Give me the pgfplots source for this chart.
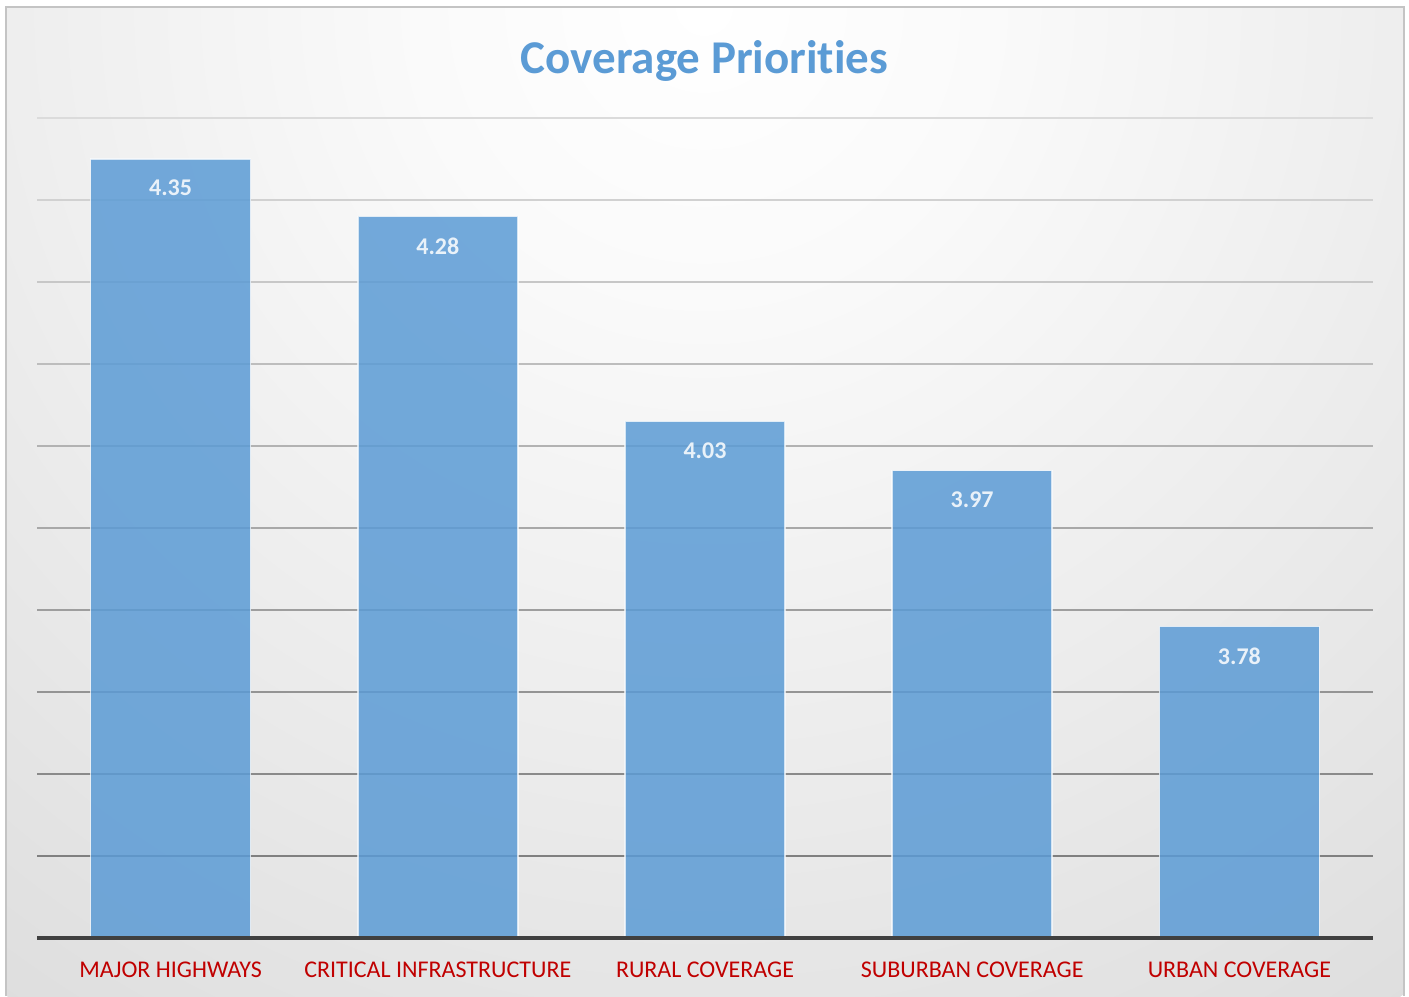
\documentclass[border=0pt]{standalone}
\usepackage{pgfplots}
\pgfplotsset{compat=1.18}
\usepackage{fontspec}
\setmainfont{Carlito}[Ligatures=NoCommon]
\definecolor{barblue}{HTML}{5B9BD5}
\definecolor{titleblue}{HTML}{5B9BD5}
\definecolor{catred}{HTML}{C00000}
\definecolor{bgedge}{HTML}{BABABA}
\definecolor{baseline}{HTML}{404040}
\definecolor{frame}{HTML}{C4C4C4}
\pgfdeclareradialshading{chartbg}{\pgfpoint{0bp}{0bp}}{color(0bp)=(white); color(6bp)=(white!98!black); color(50bp)=(bgedge)}
\begin{document}
\begin{tikzpicture}
\fill[white] (0pt,0pt) rectangle (1409pt,996pt);
\begin{scope}
\clip (6pt,0pt) rectangle (1404pt,989pt);
\shade[shading=chartbg] (704pt,989pt) circle (1210pt);
\end{scope}
\draw[color=frame, line width=1.5pt] (6pt,0pt) -- (6pt,989pt) -- (1404pt,989pt) -- (1404pt,0pt);
\node[font=\bfseries\fontsize{47}{56}\selectfont, text=titleblue, anchor=base] at (704.5pt,922pt) {Coverage Priorit\kern0pt ies};
\begin{axis}[
  at={(37pt,58pt)}, anchor=south west,
  scale only axis, width=1336pt, height=820pt,
  xmin=-0.5, xmax=4.5, ymin=3.4, ymax=4.4,
  axis line style={draw=none},
  tick style={draw=none},
  ytick=\empty,
  xtick={0,1,2,3,4},
  xticklabels={MAJOR HIGHWAYS, CRITICAL INFRASTRUCTURE, RURAL COVERAGE, SUBURBAN COVERAGE, URBAN COVERAGE},
  xticklabel style={font=\fontsize{24}{29}\selectfont, text=catred, yshift=-16pt},
  clip mode=individual,
  ybar, bar width=160pt, bar shift=0pt,
  nodes near coords,
  point meta=y,
  every node near coord/.append style={font=\bfseries\fontsize{24}{29}\selectfont, text=white, anchor=north, yshift=-17pt,
    /pgf/number format/fixed, /pgf/number format/fixed zerofill, /pgf/number format/precision=2,
    /pgf/number format/assume math mode=true},
]
\draw[line width=2pt, color=black!50] (axis cs:-0.5,3.5) -- (axis cs:4.5,3.5);
\draw[line width=2pt, color=black!46] (axis cs:-0.5,3.6) -- (axis cs:4.5,3.6);
\draw[line width=2pt, color=black!42] (axis cs:-0.5,3.7) -- (axis cs:4.5,3.7);
\draw[line width=2pt, color=black!38] (axis cs:-0.5,3.8) -- (axis cs:4.5,3.8);
\draw[line width=2pt, color=black!34] (axis cs:-0.5,3.9) -- (axis cs:4.5,3.9);
\draw[line width=2pt, color=black!30] (axis cs:-0.5,4.0) -- (axis cs:4.5,4.0);
\draw[line width=2pt, color=black!26] (axis cs:-0.5,4.1) -- (axis cs:4.5,4.1);
\draw[line width=2pt, color=black!22] (axis cs:-0.5,4.2) -- (axis cs:4.5,4.2);
\draw[line width=2pt, color=black!18] (axis cs:-0.5,4.3) -- (axis cs:4.5,4.3);
\draw[line width=2pt, color=black!14] (axis cs:-0.5,4.4) -- (axis cs:4.5,4.4);
\addplot[fill=barblue, fill opacity=0.85, draw=white, draw opacity=0.7, line width=1.5pt] coordinates {
  (0,4.35) (1,4.28) (2,4.03) (3,3.97) (4,3.78)
};
\draw[line width=4pt, color=baseline] (axis cs:-0.5,3.4) -- (axis cs:4.5,3.4);
\end{axis}
\end{tikzpicture}
\end{document}
